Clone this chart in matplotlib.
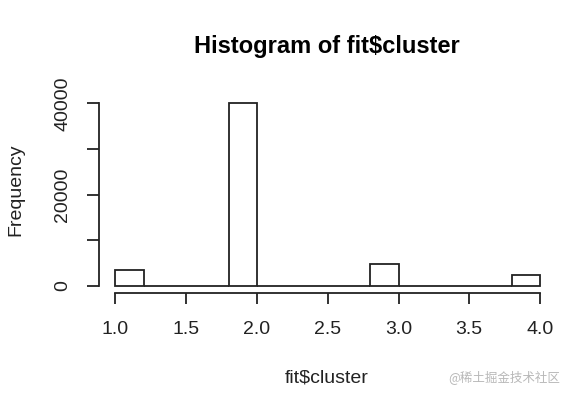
import numpy as np
import matplotlib.pyplot as plt

# histogram data (R-style: breaks every 0.2 from 1 to 4)
bin_edges = [1.0, 1.2, 1.4, 1.6, 1.8, 2.0, 2.2, 2.4, 2.6, 2.8, 3.0, 3.2, 3.4, 3.6, 3.8, 4.0]
counts = [3500, 0, 0, 0, 40000, 0, 0, 0, 0, 4650, 0, 0, 0, 0, 2400]
x_ticks = [1.0, 1.5, 2.0, 2.5, 3.0, 3.5, 4.0]
y_ticks = [0, 10000, 20000, 30000, 40000]
y_labels = ['0', '', '20000', '', '40000']

W, H = 573, 396
fig = plt.figure(figsize=(W / 100, H / 100), dpi=100)
plt.rcParams['font.family'] = ['Liberation Sans', 'DejaVu Sans']

# plot region in pixels
left, right, top, bottom = 98.5, 557, 96, 293
ax = fig.add_axes([left / W, 1 - bottom / H, (right - left) / W, (bottom - top) / H])

ink = '#222222'
ax.hist(bin_edges[:-1], bins=bin_edges, weights=counts,
        facecolor='white', edgecolor=ink, linewidth=1.3)

ax.set_xlim(0.88, 4.12)
ax.set_ylim(-1600, 41600)

for s in ['top', 'right']:
    ax.spines[s].set_visible(False)
ax.spines['bottom'].set_bounds(1, 4)
ax.spines['left'].set_bounds(0, 40000)
for s in ['bottom', 'left']:
    ax.spines[s].set_color(ink)
    ax.spines[s].set_linewidth(1.3)

ax.set_xticks(x_ticks)
ax.set_xticklabels([f'{v:.1f}' for v in x_ticks])
ax.set_yticks(y_ticks)
ax.set_yticklabels(y_labels, rotation=90, va='center')
ax.tick_params(axis='x', length=8, width=1.3, color=ink, pad=12, labelsize=14, labelcolor=ink)
ax.tick_params(axis='y', length=8.5, width=1.3, color=ink, pad=11, labelsize=14, labelcolor=ink)

# titles
fig.text(327 / W, 1 - 46 / H, 'Histogram of fit$cluster', ha='center', va='center',
         fontsize=17, fontweight='bold', color='black')
fig.text(327 / W, 1 - 378 / H, 'fit$cluster', ha='center', va='center',
         fontsize=14, color=ink)
fig.text(16 / W, 1 - 190 / H, 'Frequency', ha='center', va='center',
         rotation=90, fontsize=14, color=ink)

# watermark
fig.text(560 / W, 1 - 377 / H, '@稀土掘金技术社区', ha='right', va='center',
         fontsize=9, color='#b8b8b8', family=['Noto Sans CJK SC', 'DejaVu Sans'])

fig.savefig('out.png', dpi=100)
